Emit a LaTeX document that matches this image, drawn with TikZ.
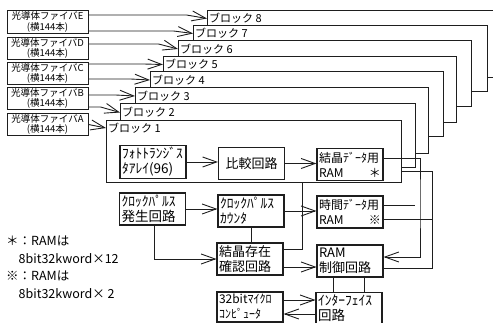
\documentclass[tikz,border=0pt]{standalone}
\usepackage{fontspec}
\setmainfont{Noto Sans CJK JP}
\usepackage{tikz}
\usetikzlibrary{arrows.meta}
\definecolor{ink}{HTML}{1E1E1E}

\begin{document}
\begin{tikzpicture}[x=1pt, y=-1pt,
  fiber/.style={draw=ink, line width=1pt, minimum width=81pt, minimum height=22pt,
                inner sep=1pt, align=center, font=\fontsize{9.5}{10.5}\selectfont},
  unit/.style={draw=ink, line width=1.1pt, minimum width=66pt, minimum height=32pt,
               inner sep=2pt, text width=62pt, align=left, font=\fontsize{12}{15}\selectfont},
  wide/.style={font=\fontsize{13.5}{15}\selectfont},
  blk/.style={anchor=west, inner sep=2pt, font=\fontsize{11}{12}\selectfont},
  note/.style={anchor=north west, inner sep=0pt, align=left, font=\fontsize{12.5}{17.5}\selectfont},
  wire/.style={draw=ink, line width=1pt},
  arr/.style={-{Straight Barb[length=14pt,width=10pt]}, draw=ink, line width=0.9pt}]
\useasboundingbox (0,0) rectangle (493,323);
\clip (0,0) rectangle (493,323);

% fibres
\node[fiber] (fibE) at (47.5,22) {光導体ファイバE\\(横144本)};
\node[fiber] (fibD) at (47.5,48.5) {光導体ファイバD\\(横144本)};
\node[fiber] (fibC) at (47.5,73.5) {光導体ファイバC\\(横144本)};
\node[fiber] (fibB) at (47.5,98.5) {光導体ファイバB\\(横144本)};
\node[fiber] (fibA) at (47.5,124.5) {光導体ファイバA\\(横144本)};

% blocks
\node[blk] (b8) at (207,18.5) {ブロック 8};
\node[blk] (b7) at (193,33.5) {ブロック 7};
\node[blk] (b6) at (178,49) {ブロック 6};
\node[blk] (b5) at (163,64.5) {ブロック 5};
\node[blk] (b4) at (150,80) {ブロック 4};
\node[blk] (b3) at (135,96) {ブロック 3};
\node[blk] (b2) at (120,112.5) {ブロック 2};
\node[blk] (b1) at (106,128) {ブロック 1};

\draw[wire] (207,26) |- (496,11) |- (487,78);
\draw[wire] (193,41) |- (487,26) |- (471,92);
\draw[wire] (178,57) |- (471,41) |- (456,107);
\draw[wire] (163,72) |- (456,57) |- (443,123);
\draw[wire] (150,88) |- (443,72) |- (428,137);
\draw[wire] (135,104) |- (428,88) |- (415,154);
\draw[wire] (120,121) |- (415,104) |- (401,168);
\draw[wire] (106,121) rectangle (401,183);

\draw[arr] ([yshift=7pt]fibE.east) -- ++(98,0) -- (b8.west);
\draw[arr] ([yshift=-9pt]fibE.east) -- ++(85,0) -- (b7.west);
\draw[arr] ([yshift=4.5pt]fibD.east) -- ++(70,0) -- (b6.west);
\draw[arr] ([yshift=9.5pt]fibC.east) -- ++(55,0) -- (b5.west);
\draw[arr] ([yshift=-5.5pt]fibC.east) -- ++(42,0) -- (b4.west);
\draw[arr] ([yshift=3.5pt]fibB.east) -- ++(27,0) -- (b3.west);
\draw[arr] ([yshift=-8.5pt]fibB.east) -- ++(12,0) -- (b2.west);
\draw[arr] (fibA.east) -- (b1.west);

% circuit units
\node[unit, wide, minimum height=30pt] (photo) at (153,162) {ﾌｫﾄﾄﾗﾝｼﾞｽ\\ﾀｱﾚｲ(96)};
\node[unit, align=center, font=\fontsize{13}{15}\selectfont] (cmp) at (251.5,163.5) {比較回路};
\node[unit] (xtalram) at (350,164.5) {結晶ﾃﾞｰﾀ用\\RAM\hfill＊\hspace*{6pt}};
\node[unit, wide] (clkgen) at (152.5,209) {ｸﾛｯｸﾊﾟﾙｽ\\発生回路};
\node[unit, wide] (counter) at (251,211) {ｸﾛｯｸﾊﾟﾙｽ\\ｶｳﾝﾀ};
\node[unit] (timeram) at (350,212) {時間ﾃﾞｰﾀ用\\RAM\hfill※\hspace*{4pt}};
\node[unit, font=\fontsize{13}{15}\selectfont] (exist) at (250,259) {結晶存在\\確認回路};
\node[unit, font=\fontsize{13}{15}\selectfont] (ramctl) at (350,261) {RAM\\制御回路};
\node[unit, minimum height=30pt] (mcu) at (250,307) {32bitﾏｲｸﾛ\\ｺﾝﾋﾟｭｰﾀ};
\node[unit, wide, minimum height=30pt] (iface) at (349,308) {ｲﾝﾀｰﾌｪｲｽ\\回路};

\node[note] (memo) at (6,236) {＊：RAMは\\\hspace*{1em}8bit32kword×12\\※：RAMは\\\hspace*{1em}8bit32kword× 2};

\draw[arr] (photo.east) -- (photo.east -| cmp.west);
\draw[arr] (cmp.east) -- (cmp.east -| xtalram.west);
\draw[arr] (clkgen.east) -- (clkgen.east -| counter.west);
\draw[arr] ([xshift=1.5pt]clkgen.south) |- (exist.west);
\draw[wire] (counter.south) -- (counter.south |- exist.north);
\draw[arr] (counter.east) -- (counter.east -| timeram.west);
\draw[arr] ([yshift=-8pt]exist.east) -- ([yshift=-8pt]exist.east -| ramctl.west);
\coordinate (b1s) at (302,183);
\draw[wire] ([yshift=9pt]exist.east) -| (b1s);

\coordinate (xr) at (420,200);
\draw[arr] ([yshift=6pt]xtalram.east) -| (xr) |- ([yshift=4pt]ramctl.east);
\coordinate (tfree) at (415,206);
\draw[wire] (tfree -| timeram.east) -- (tfree);
\coordinate (bus) at (401,172);
\coordinate (busR) at (432,172);
\draw[wire] (bus) -- (busR) |- ([yshift=-8pt]ramctl.east);
\draw[wire] ([yshift=-8pt]timeram.east) -- ([yshift=-8pt]timeram.east -| busR);

\draw[wire] ([xshift=-17pt]ramctl.south) -- ([xshift=-17pt]ramctl.south |- iface.north);
\draw[wire] ([xshift=14pt]ramctl.south) -- ([xshift=14pt]ramctl.south |- iface.north);
\draw[arr] ([yshift=7pt]mcu.east) -- ([yshift=7pt]mcu.east -| iface.west);
\draw[arr] ([yshift=-6pt]iface.west) -- ([yshift=-6pt]iface.west -| mcu.east);
\end{tikzpicture}
\end{document}
